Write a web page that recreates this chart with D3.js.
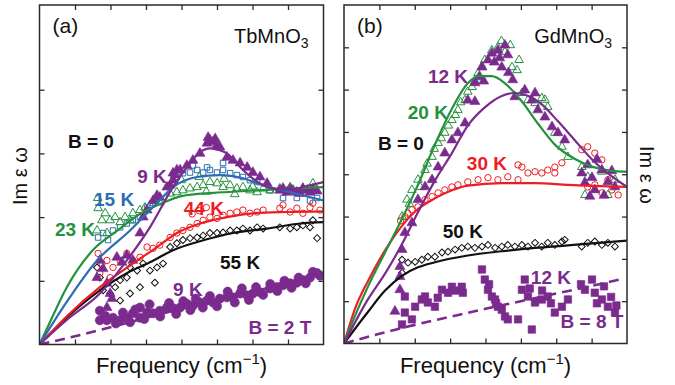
<!DOCTYPE html>
<html><head><meta charset="utf-8">
<script src="https://cdn.jsdelivr.net/npm/d3@7"></script>
<style>body{margin:0;background:#fff} svg{display:block}</style>
</head><body><svg id="c" width="675" height="385"></svg>
<script>
// ---------- tick values ----------
const freqTicks = [10,20,30,40,50,60,70];
const imTicksA = [10,20,30,40];
const imTicksB = [10,20,30,40,50,60,70];

// ---------- Panel (a) TbMnO3 : fit curves ----------
const fitA_23K = [[0,0],[2.1,2.5],[7.7,9.0],[15,14.8],[22,17.9],[28,20.4],[35,22.3],[40,23.3],[49,23.8],[58,24.1],[68,24.4],[80,24.7]];
const fitA_15K = [[0,0],[6.6,5.8],[16.2,13.2],[25.5,17.9],[33.1,22.2],[37.6,24.7],[44.4,26.3],[50.8,26.6],[57.3,26.1],[63,25],[68.6,24.2],[80,22.6]];
const fitA_9K  = [[0,0],[8,4.0],[17,8.0],[24.6,13.2],[31.1,18.4],[37.6,24.7],[41.5,27.8],[45.2,30.2],[48,30.8],[50.8,30.5],[52.8,30.0],[57.3,27.4],[62.1,25.3],[66.9,24.4],[71.4,24.4],[76.2,25.0],[80,25.5]];
const fitA_44K = [[0,0],[8,4.6],[17,9.0],[26.3,12.7],[33.1,15.3],[38.7,17.5],[45.2,19.0],[52.8,20.0],[60.1,20.6],[69.7,20.8],[80,20.9]];
const fitA_55K = [[0,0],[8,4.4],[17,8.5],[24.6,11.2],[31.1,12.9],[37.6,14.8],[45.2,16.2],[54.5,17.5],[64.1,18.2],[73.4,19.0],[80,19.2]];
const fitA_2T  = [[0,0],[10,1.3],[20,2.7],[35,4.9],[50,7.0],[60,8.3],[70,9.7],[80,11.3]];

// ---------- Panel (a) measured points ----------
const ptsA_23K = [[16.2,17.9],[16.4,23.0],[16.5,21.4],[17.6,19.5],[18.5,20.6],[19.0,17.5],[19.9,19.5],[21.3,20.0],[22.7,19.2],[24.1,20.0],[25.5,19.5],[26.3,20.6],[28.3,21.1],[29.7,21.5],[31.1,21.9],[32.5,22.6],[33.9,22.3],[36.8,23.7],[38.7,23.9],[40.0,25.8],[40.4,24.2],[42.4,24.5],[44.4,24.7],[45.0,26.3],[46.1,25.0],[47.0,24.0],[48.0,25.5],[50.0,25.3],[51.7,24.7],[52.0,26.0],[53.7,25.0],[55.0,23.6],[55.6,24.5],[57.3,24.7],[59.3,24.2],[60.0,24.8],[61.3,23.9],[63.0,24.5],[64.9,24.2],[67.7,24.5],[70.6,24.7],[74.2,24.5],[77.0,25.3]];
const ptsA_15K = [[16.5,16.8],[17.9,17.5],[19.3,16.4],[20.7,17.9],[22.7,18.4],[24.6,19.0],[26.3,19.5],[28.3,20.0],[30.3,21.5],[32.0,22.2],[38.7,26.3],[40.4,26.9],[42.4,27.0],[43.2,28.1],[44.4,27.4],[46.1,27.0],[47.2,27.8],[48.0,27.4],[50.0,27.0],[51.7,27.4],[51.7,28.5],[53.7,26.9],[55.6,26.6],[57.3,26.3],[59.3,25.8],[61.3,25.5],[64.9,24.2],[68.6,23.0],[72.5,23.0],[76.2,22.6],[78.2,23.0]];
const ptsA_44K = [[16.5,14.3],[17.0,11.2],[17.6,12.7],[19.0,13.2],[19.9,10.5],[20.7,12.1],[22.7,13.2],[24.6,14.3],[26.3,13.2],[28.3,13.7],[30.3,15.3],[32.0,15.1],[33.9,15.6],[36.8,16.8],[38.7,17.5],[40.4,17.9],[42.4,18.4],[43.0,20.5],[44.4,19.0],[45.0,21.0],[46.1,19.5],[47.0,21.5],[48.0,20.0],[50.0,19.8],[51.7,20.3],[53.7,20.6],[55.6,20.8],[57.3,21.1],[59.3,20.6],[61.3,20.8],[63.0,21.1],[67.7,21.4],[68.6,21.9],[70.6,20.8],[72.5,21.4],[74.2,20.6],[76.2,21.5],[77.0,22.2],[79.0,21.1]];
const ptsA_55K = [[16.2,12.1],[17.0,10.5],[17.9,8.5],[19.0,9.6],[19.9,8.0],[21.3,9.0],[22.7,10.1],[22.7,6.9],[24.6,10.5],[25.5,12.1],[25.5,8.0],[27.5,11.6],[28.3,9.0],[29.2,12.7],[31.1,11.6],[32.5,9.7],[33.1,12.1],[34.8,12.7],[36.8,15.3],[38.7,15.9],[40.4,16.4],[42.4,16.7],[44.4,16.8],[46.1,17.1],[48.0,17.5],[50.0,17.5],[51.7,17.6],[53.7,17.9],[55.6,17.9],[57.3,18.2],[59.3,17.9],[61.3,18.4],[63.0,18.2],[67.7,18.4],[70.6,18.2],[72.5,18.4],[74.2,18.7],[76.2,18.4],[77.0,19.5],[78.2,16.7]];
const ptsA_9K  = [[16.2,10.5],[17.0,13.2],[17.9,11.9],[19.0,9.6],[19.9,8.0],[19.0,5.8],[20.4,7.2],[21.8,13.7],[23.2,12.9],[24.6,14.0],[26.3,13.2],[28.3,17.5],[29.2,20.0],[30.3,21.1],[32.0,22.6],[33.1,23.4],[33.9,23.1],[35.9,24.7],[36.8,25.0],[37.6,25.8],[37.6,26.9],[38.2,26.6],[38.7,27.4],[39.6,27.4],[41.5,28.1],[43.2,28.9],[45.2,30.0],[47.2,31.6],[47.5,32.5],[48.0,32.1],[48.9,31.8],[49.5,32.3],[50.0,31.3],[50.8,31.0],[52.8,29.4],[54.5,28.9],[56.5,28.5],[58.5,27.8],[60.1,27.0],[62.1,26.3],[64.1,25.3],[67.7,24.2],[68.6,24.5],[69.7,23.9],[70.6,24.4],[71.4,24.2],[72.5,23.9],[73.4,23.7],[74.2,24.5],[75.4,24.2],[76.2,23.9],[77.0,24.4],[78.2,24.1]];
const ptsA_2T  = [[17.0,5.3],[17.0,3.8],[18.5,4.5],[19.0,3.8],[20.7,4.2],[21.5,3.3],[22.7,3.8],[23.5,5.0],[24.6,4.2],[25.5,3.5],[26.3,4.9],[27.0,5.5],[28.3,4.2],[28.3,5.8],[29.5,4.0],[30.3,5.0],[31.0,6.3],[32.0,4.9],[33.9,5.3],[34.0,4.4],[35.9,5.8],[36.5,6.5],[37.6,5.7],[38.5,4.8],[39.6,5.8],[40.5,6.8],[41.5,6.4],[42.5,5.4],[43.2,6.1],[44.0,7.2],[45.2,6.6],[46.0,5.8],[47.2,6.9],[48.0,7.6],[48.9,6.6],[50.0,6.0],[50.8,7.2],[52.8,7.4],[53.0,8.3],[54.5,7.4],[55.0,6.6],[56.5,8.0],[57.0,8.8],[58.5,7.7],[59.0,7.0],[60.1,8.0],[61.0,9.0],[62.1,8.2],[63.0,7.8],[64.9,8.8],[65.0,9.5],[66.9,9.0],[67.0,8.4],[68.6,9.3],[69.0,10.0],[70.6,9.6],[71.0,8.9],[72.5,9.7],[73.0,10.5],[74.2,10.1],[75.0,9.6],[76.2,10.5],[77.0,11.4],[78.2,11.2],[79.0,10.8]];

// ---------- Panel (b) GdMnO3 : fit curves ----------
const fitB_20K = [[0,0],[3,6.3],[6.8,13.5],[11.6,21.5],[16.4,29.5],[20.9,37.5],[25.7,47],[30.5,55.5],[35,61.5],[37.9,63.2],[41.8,63.2],[45.5,61.5],[50.3,57.2],[54.8,52],[59.6,47],[65.3,43.6],[70.1,41.8],[75.7,40.8],[80,40.6]];
const fitB_12K = [[0,0],[6.8,10.5],[11.6,16.5],[16.4,23.5],[20.9,31],[25.7,38.5],[30.5,45],[35,51.5],[39.8,55.8],[44.6,58.5],[48,59.2],[51.1,58.8],[55.9,56.5],[60.5,52.5],[65.3,48],[70.1,43.5],[74.6,40.2],[80,37]];
const fitB_30K = [[0,0],[3.1,8.2],[6.8,14.8],[11.6,22],[16.4,27.8],[20.1,31.2],[25.7,34.3],[30.5,36.2],[35,37.3],[44.6,37.9],[54,37.9],[63.3,37.5],[80,37.0]];
const fitB_50K = [[0,0],[6.8,7.5],[11.6,12.5],[16.4,16.0],[20.9,18.0],[25.7,19.2],[35,20.8],[44.6,21.8],[54,22.6],[63.3,23.2],[72,23.8],[80,24.3]];
const fitB_8T  = [[0,0],[10,2.3],[20,4.4],[30,6.3],[40,8.2],[50,10.0],[60,11.8],[70,13.6],[79,15.3]];

// ---------- Panel (b) measured points ----------
const ptsB_20K = [[16.4,30.0],[17.8,34.0],[18.5,33.0],[19.2,36.3],[20.9,38.7],[21.5,37.0],[22.9,41.0],[23.5,42.5],[24.9,44.1],[25.5,46.0],[26.6,47.4],[27.5,48.5],[28.5,49.8],[29.5,51.5],[30.5,52.8],[31.5,54.0],[32.2,55.2],[33.0,57.0],[34.2,57.5],[35.0,59.5],[36.2,60.6],[37.0,62.0],[37.9,63.9],[39.0,65.5],[39.8,67.0],[41.8,69.3],[43.5,70.0],[44.5,71.5],[45.5,68.9],[47.0,70.5],[47.5,65.3],[48.9,64.6],[49.5,67.0],[50.3,59.2],[52.0,57.5],[54.0,56.8],[55.9,58.0],[56.8,57.6],[57.6,55.9],[59.6,49.8],[61.6,46.5],[63.3,44.1],[67.2,41.7],[68.1,35.1],[68.9,39.4],[70.9,36.3],[72.9,40.6],[74.6,35.1],[76.6,38.7]];
const ptsB_12K = [[14.4,7.6],[15.8,12.7],[15.8,15.8],[15.8,18.2],[16.4,22.2],[17.2,26.2],[19.2,28.5],[20.9,34.0],[22.9,37.0],[24.9,38.7],[26.6,41.7],[28.5,45.0],[30.5,48.1],[32.2,49.8],[34.2,52.1],[35.0,57.5],[37.0,57.2],[37.0,61.6],[38.2,63.0],[39.0,65.3],[39.5,62.0],[40.7,67.0],[41.8,68.6],[42.5,66.5],[43.5,69.3],[44.0,67.5],[44.6,65.3],[45.5,70.5],[46.3,68.2],[46.5,64.0],[47.7,62.3],[48.3,58.3],[51.1,59.9],[53.1,57.5],[54.0,59.2],[54.8,55.2],[56.8,53.5],[58.8,51.2],[60.5,49.8],[62.4,48.1],[67.2,40.3],[68.1,38.0],[68.9,42.2],[69.5,34.8],[70.1,39.2],[70.9,36.3],[71.5,43.5],[72.9,41.0],[73.5,35.0],[74.6,38.2],[75.7,40.8],[76.6,37.0]];
const ptsB_30K = [[16.0,29.0],[17.2,30.0],[18.0,30.8],[19.2,31.6],[20.9,32.3],[22.9,34.0],[24.9,34.7],[26.6,35.6],[28.5,36.3],[30.5,37.0],[32.2,37.5],[35.0,38.2],[37.9,38.7],[40.7,39.2],[43.5,38.7],[46.3,39.4],[49.2,38.7],[49.2,42.2],[50.3,41.7],[52.0,40.3],[54.0,40.6],[55.9,40.3],[57.6,41.0],[59.6,41.7],[59.6,40.3],[61.6,42.7],[67.2,45.8],[68.9,46.5],[68.9,37.0],[70.9,45.0],[70.9,37.5],[72.9,43.4],[72.9,35.6],[74.6,38.7],[75.7,36.3],[77.5,35.1]];
const ptsB_50K = [[16.4,19.8],[16.4,16.7],[18.1,19.1],[20.1,19.3],[22.0,19.8],[23.7,20.5],[25.7,20.5],[27.7,21.5],[29.4,21.7],[31.4,22.2],[33.3,22.6],[35.0,22.9],[37.0,22.6],[39.0,22.9],[40.7,23.3],[42.7,22.6],[44.6,22.9],[46.3,23.3],[48.3,22.9],[50.3,23.3],[52.0,22.9],[54.0,23.8],[55.9,22.9],[57.6,23.8],[59.6,23.3],[61.6,24.1],[62.4,24.5],[67.2,22.9],[68.9,23.8],[70.9,24.1],[72.9,23.3],[74.6,23.8],[76.6,22.9]];
const ptsB_8T  = [[16.4,4.5],[17.2,7.3],[17.2,11.1],[19.2,5.7],[20.1,8.7],[22.0,10.4],[22.9,11.1],[23.7,9.7],[25.7,8.7],[26.5,10.8],[27.7,12.7],[29.4,12.0],[30.5,13.4],[31.5,12.5],[33.3,13.4],[33.6,12.0],[39.0,17.5],[39.8,15.1],[40.7,12.7],[41.0,14.0],[41.8,11.1],[42.7,10.4],[43.0,9.5],[43.5,8.7],[44.6,8.0],[45.5,6.4],[46.3,5.7],[49.2,5.7],[50.3,12.7],[51.1,15.1],[52.0,11.1],[52.5,13.0],[53.1,3.3],[54.0,9.7],[55.9,10.4],[56.0,12.5],[57.6,11.1],[58.5,9.5],[59.6,7.3],[61.6,8.7],[63.3,10.4],[67.0,14.0],[68.1,12.7],[70.1,15.1],[70.9,12.0],[71.5,9.5],[72.9,10.4],[73.5,13.5],[74.6,8.7],[75.5,11.0],[76.6,7.3],[77.0,9.0]];

// ---------- drawing ----------
const svg = d3.select('#c');
const FONT = "'Liberation Sans', Arial, Helvetica, sans-serif";
const COL = {purple:'#7b2a8e', green:'#24913d', blue:'#2c6db5', red:'#ee1d23', black:'#111111'};
const AX = '#2a2a2a';

function drawPanel(cfg) {
  const x = d3.scaleLinear().domain([0,80]).range([cfg.left, cfg.right]);
  const y = d3.scaleLinear().domain([0, cfg.ymax]).range([cfg.bottom, cfg.top]);
  const g = svg.append('g');
  const clipId = 'clip' + cfg.id;
  svg.append('clipPath').attr('id', clipId).append('rect')
    .attr('x', cfg.left).attr('y', cfg.top)
    .attr('width', cfg.right - cfg.left).attr('height', cfg.bottom - cfg.top);
  const plot = g.append('g').attr('clip-path', `url(#${clipId})`);

  cfg.points.forEach(p => {
    const sym = d3.symbol().type(p.type).size(p.size);
    plot.append('g').selectAll('path').data(p.data).join('path')
      .attr('transform', d => `translate(${x(d[0])},${y(d[1])})` + (p.rot ? ' rotate(45)' : ''))
      .attr('d', sym)
      .attr('fill', p.filled ? p.color : 'none')
      .attr('stroke', p.color)
      .attr('stroke-width', p.filled ? 0.6 : 1);
  });

  const line = d3.line().x(d => x(d[0])).y(d => y(d[1])).curve(d3.curveMonotoneX);
  cfg.fits.forEach(f => {
    plot.append('path').datum(f.data).attr('d', line)
      .attr('fill', 'none').attr('stroke', f.color)
      .attr('stroke-width', f.dash ? 2.6 : 2.2)
      .attr('stroke-dasharray', f.dash || null)
      .attr('stroke-linecap', 'butt');
  });

  const T = 5;
  const axes = [
    [d3.axisBottom(x).tickValues(freqTicks), `translate(0,${cfg.bottom})`],
    [d3.axisTop(x).tickValues(freqTicks), `translate(0,${cfg.top})`],
    [d3.axisLeft(y).tickValues(cfg.yticks), `translate(${cfg.left},0)`],
    [d3.axisRight(y).tickValues(cfg.yticks), `translate(${cfg.right},0)`]
  ];
  axes.forEach(([ax, tr]) => {
    const a = g.append('g').attr('transform', tr)
      .call(ax.tickSizeInner(-T).tickSizeOuter(0).tickFormat(''));
    a.select('.domain').remove();
    a.selectAll('line').attr('stroke', AX).attr('stroke-width', 1.3);
  });
  g.append('rect').attr('x', cfg.left).attr('y', cfg.top)
    .attr('width', cfg.right - cfg.left).attr('height', cfg.bottom - cfg.top)
    .attr('fill', 'none').attr('stroke', AX).attr('stroke-width', 1.5);

  cfg.labels.forEach(l => {
    g.append('text').attr('x', x(l.at[0])).attr('y', y(l.at[1]))
      .attr('text-anchor', 'middle').attr('dominant-baseline', 'central')
      .attr('font-family', FONT).attr('font-weight', 'bold').attr('font-size', 19)
      .attr('fill', l.color).text(l.text);
  });

  g.append('text').attr('x', cfg.left + 13).attr('y', cfg.top + 28)
    .attr('font-family', FONT).attr('font-size', 21).attr('fill', '#111').text(cfg.letter);
  const c = g.append('text').attr('x', cfg.right - 15).attr('y', cfg.top + 38)
    .attr('text-anchor', 'end').attr('font-family', FONT).attr('font-size', 20).attr('fill', '#111');
  c.append('tspan').text(cfg.compound);
  c.append('tspan').attr('dy', 5).attr('font-size', 14).text('3');

  const xt = g.append('text').attr('x', (cfg.left + cfg.right) / 2).attr('y', 373)
    .attr('text-anchor', 'middle').attr('font-family', FONT).attr('font-size', 22).attr('fill', '#111');
  xt.append('tspan').text('Frequency (cm');
  xt.append('tspan').attr('dy', -9).attr('font-size', 15).text('\u22121');
  xt.append('tspan').attr('dy', 9).text(')');

  g.append('text')
    .attr('transform', `translate(${cfg.ytitle.x},${cfg.ytitle.y}) rotate(${cfg.ytitle.rot})`)
    .attr('text-anchor', 'middle').attr('font-family', FONT).attr('font-size', 20).attr('fill', '#111')
    .text('Im \u03b5 \u03c9');
}

drawPanel({
  id: 'a', left: 39.5, right: 323.5, top: 5, bottom: 344.5, ymax: 53.3, yticks: imTicksA,
  letter: '(a)', compound: 'TbMnO',
  ytitle: {x: 27, y: 176, rot: -90},
  points: [
    {data: ptsA_55K, type: d3.symbolSquare, size: 24, rot: true, color: COL.black},
    {data: ptsA_44K, type: d3.symbolCircle, size: 32, color: COL.red},
    {data: ptsA_15K, type: d3.symbolSquare, size: 30, color: COL.blue},
    {data: ptsA_23K, type: d3.symbolTriangle, size: 32, color: COL.green},
    {data: ptsA_9K,  type: d3.symbolTriangle, size: 44, filled: true, color: COL.purple},
    {data: ptsA_2T,  type: d3.symbolCircle, size: 66, filled: true, color: COL.purple}
  ],
  fits: [
    {data: fitA_2T, color: COL.purple, dash: '10,6'},
    {data: fitA_55K, color: COL.black},
    {data: fitA_44K, color: COL.red},
    {data: fitA_23K, color: COL.green},
    {data: fitA_15K, color: COL.blue},
    {data: fitA_9K, color: COL.purple}
  ],
  labels: [
    {text: 'B = 0', at: [14.5, 31.8], color: COL.black},
    {text: '9 K', at: [31.7, 26.3], color: COL.purple},
    {text: '15 K', at: [21.0, 22.8], color: COL.blue},
    {text: '23 K', at: [10.0, 18.0], color: COL.green},
    {text: '44 K', at: [46.3, 21.3], color: COL.red},
    {text: '55 K', at: [56.5, 12.8], color: COL.black},
    {text: '9 K', at: [41.8, 8.6], color: COL.purple},
    {text: 'B = 2 T', at: [67.7, 2.6], color: COL.purple}
  ]
});

drawPanel({
  id: 'b', left: 344, right: 627, top: 5, bottom: 343.5, ymax: 80, yticks: imTicksB,
  letter: '(b)', compound: 'GdMnO',
  ytitle: {x: 640, y: 175, rot: 90},
  points: [
    {data: ptsB_50K, type: d3.symbolSquare, size: 24, rot: true, color: COL.black},
    {data: ptsB_30K, type: d3.symbolCircle, size: 32, color: COL.red},
    {data: ptsB_20K, type: d3.symbolTriangle, size: 32, color: COL.green},
    {data: ptsB_12K, type: d3.symbolTriangle, size: 44, filled: true, color: COL.purple},
    {data: ptsB_8T,  type: d3.symbolSquare, size: 56, filled: true, color: COL.purple}
  ],
  fits: [
    {data: fitB_8T, color: COL.purple, dash: '10,6'},
    {data: fitB_50K, color: COL.black},
    {data: fitB_30K, color: COL.red},
    {data: fitB_20K, color: COL.green},
    {data: fitB_12K, color: COL.purple}
  ],
  labels: [
    {text: '12 K', at: [29.4, 63.0], color: COL.purple},
    {text: '20 K', at: [23.7, 54.7], color: COL.green},
    {text: 'B = 0', at: [16.1, 47.2], color: COL.black},
    {text: '30 K', at: [40.4, 42.6], color: COL.red},
    {text: '50 K', at: [33.6, 26.4], color: COL.black},
    {text: '12 K', at: [58.5, 15.7], color: COL.purple},
    {text: 'B = 8 T', at: [70.1, 5.3], color: COL.purple}
  ]
});
</script>
</body></html>
